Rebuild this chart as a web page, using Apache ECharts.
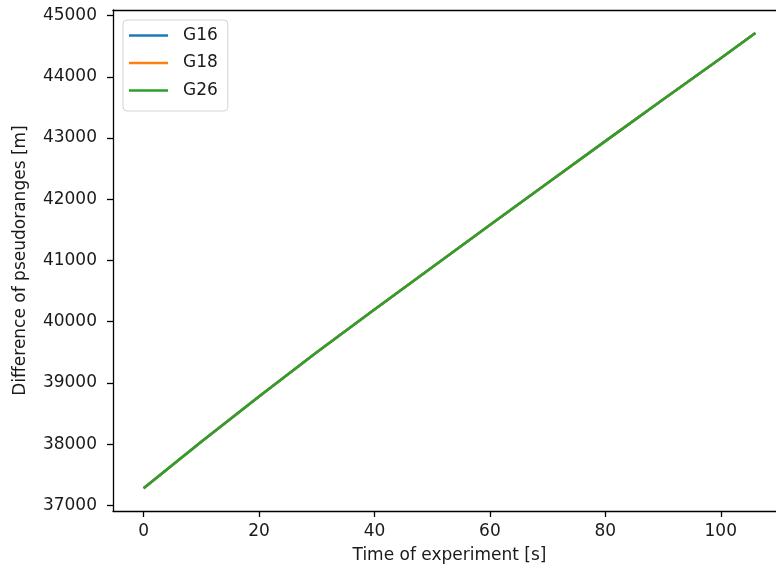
<!DOCTYPE html>
<html>
<head>
<meta charset="utf-8">
<script src="https://cdn.jsdelivr.net/npm/echarts@6/dist/echarts.min.js"></script>
<style>
  html, body { margin: 0; padding: 0; background: #fff; }
  #chart { width: 776px; height: 575px; }
</style>
</head>
<body>
<div id="chart"></div>
<script>
// time of experiment [s]
const times = [0, 10, 20, 30, 40, 50, 60, 70, 80, 90, 100, 106];
// difference of pseudoranges [m] (three series overlap)
const g16 = [37280, 38040, 38780, 39500, 40200, 40890, 41580, 42265, 42950, 43630, 44305, 44715];
const g18 = [37280, 38040, 38780, 39500, 40200, 40890, 41580, 42265, 42950, 43630, 44305, 44715];
const g26 = [37280, 38040, 38780, 39500, 40200, 40890, 41580, 42265, 42950, 43630, 44305, 44715];

const xTicks = [0, 20, 40, 60, 80, 100];
const yTicks = [37000, 38000, 39000, 40000, 41000, 42000, 43000, 44000, 45000];

const seriesNames = ["G16", "G18", "G26"];
const seriesData = [g16, g18, g26];
const colors = ["#1f77b4", "#ff7f0e", "#2ca02c"];

const FONT = "DejaVu Sans";
const TEXT = "#1a1a1a";
const chart = echarts.init(document.getElementById("chart"), null, { renderer: "canvas" });

const axisCommon = {
  type: "value",
  nameLocation: "middle",
  nameTextStyle: { fontFamily: FONT, fontSize: 17, color: TEXT },
  axisLine: { show: true, onZero: false, lineStyle: { color: "#000", width: 1.3 } },
  axisTick: { show: true, inside: false, length: 6, lineStyle: { color: "#000", width: 1.3 } },
  axisLabel: { fontFamily: FONT, fontSize: 17, color: TEXT },
  splitLine: { show: false },
};

const option = {
  animation: false,
  backgroundColor: "#fff",
  color: colors,
  grid: {
    left: 113,
    top: 10,
    right: -10,
    bottom: 64,
    outerBoundsMode: "none",
    containLabel: false,
  },
  legend: {
    left: 123,
    top: 20,
    orient: "vertical",
    data: seriesNames,
    icon: "rect",
    itemWidth: 39,
    itemHeight: 2.5,
    itemGap: 10.5,
    padding: [7, 10, 12, 6],
    backgroundColor: "rgba(255,255,255,0.8)",
    borderColor: "#d3d3d3",
    borderWidth: 1,
    borderRadius: 4,
    textStyle: { fontFamily: FONT, fontSize: 17, color: TEXT, lineHeight: 17, padding: [0, 0, 0, 10] },
  },
  xAxis: [
    {
      ...axisCommon,
      min: -5.3,
      max: 111.3,
      name: "Time of experiment [s]",
      nameGap: 36,
      axisTick: { ...axisCommon.axisTick, customValues: xTicks },
      axisLabel: { ...axisCommon.axisLabel, margin: 12, customValues: xTicks },
    },
    {
      // top spine only
      type: "value",
      position: "top",
      min: -5.3,
      max: 111.3,
      axisLine: { show: true, onZero: false, lineStyle: { color: "#000", width: 1.3 } },
      axisTick: { show: false },
      axisLabel: { show: false },
      splitLine: { show: false },
    },
  ],
  yAxis: {
    ...axisCommon,
    min: 36908,
    max: 45092,
    name: "Difference of pseudoranges [m]",
    nameGap: 84,
    axisTick: { ...axisCommon.axisTick, customValues: yTicks },
    axisLabel: {
      ...axisCommon.axisLabel,
      margin: 16,
      customValues: yTicks,
      formatter: (v) => String(v),
    },
  },
  series: seriesNames.map((name, i) => ({
    name,
    type: "line",
    xAxisIndex: 0,
    data: times.map((t, j) => [t, seriesData[i][j]]),
    showSymbol: false,
    symbol: "none",
    lineStyle: { width: 2.5, color: colors[i] },
    itemStyle: { color: colors[i] },
    z: 2 + i,
  })),
};

chart.setOption(option);
</script>
</body>
</html>
